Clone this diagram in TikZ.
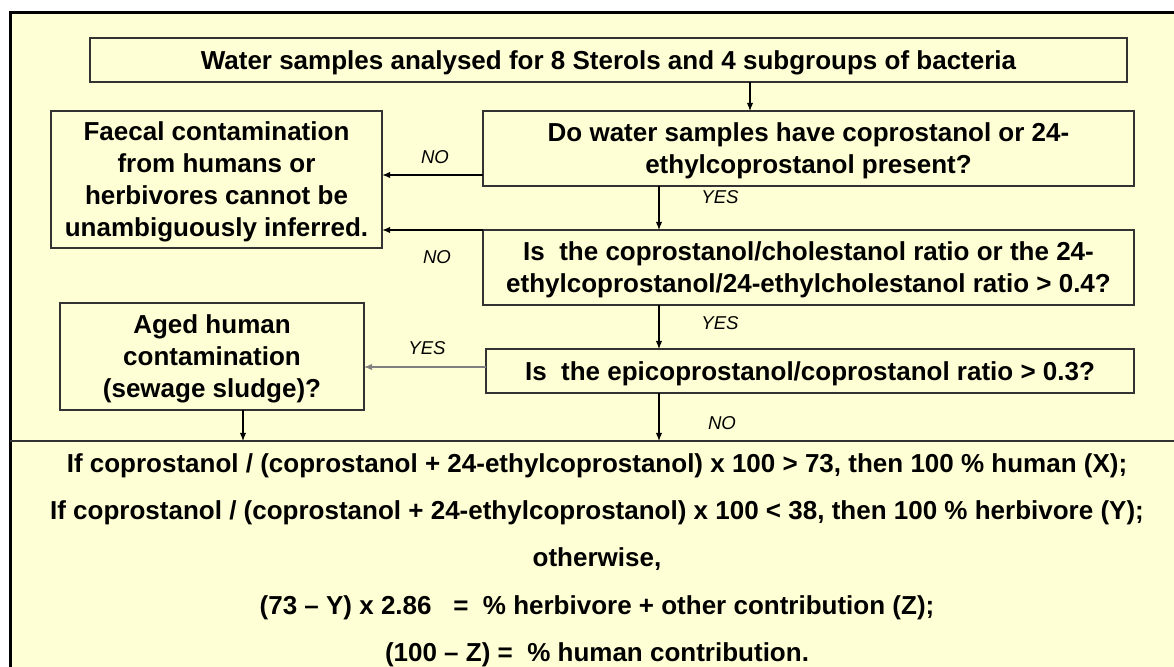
\documentclass[tikz,border=0pt]{standalone}
\usepackage{fontspec}
\setmainfont{Liberation Sans}
\usetikzlibrary{arrows.meta}
\definecolor{paper}{HTML}{FFFFD5}
\tikzstyle{stepbox}=[draw=black!80, line width=0.6pt, align=center, inner sep=0, outer sep=0,
                     font=\bfseries\fontsize{13}{16}\selectfont]
\tikzstyle{answer}=[inner sep=0, font=\itshape\fontsize{9.3}{11}\selectfont]
\tikzstyle{flow}=[line width=0.6pt, -{Latex[length=4pt,width=3.2pt]}]
\tikzstyle{sheet}=[x=0.5pt, y=-0.5pt,
                   % every node in the flow chart has the same bold face
                   every node/.style={text depth=0pt}]

\begin{document}
\begin{tikzpicture}[sheet]
        \useasboundingbox (0,0) rectangle (1174,667);
        \clip (0,0) rectangle (1174,667);
        \fill[white] (0,0) rectangle (1174,667);
        \fill[paper] (10,13) rectangle (1174,667);
        \draw[line width=1.5pt] (10.5,667) -- (10.5,13) -- (1174,13);
        \coordinate (rule) at (10,441);
        \draw[line width=0.6pt, black!80] (rule) -- (1174,441);
        \coordinate (feed)  at (750,0);
        \coordinate (spine) at (659,0);
        \node[stepbox, minimum width=518.5pt, minimum height=22pt]   (samples) at (608.5,60)  {Water samples analysed for 8 Sterols and 4 subgroups of bacteria};
        \node[stepbox, minimum width=165.5pt, minimum height=68.5pt] (faecal)  at (216.5,179.5) {Faecal contamination\\from humans or\\herbivores cannot be\\unambiguously inferred.};
        \node[stepbox, minimum width=325.5pt, minimum height=37.5pt] (dowater) at (808.5,148.5) {Do water samples have coprostanol or 24-\\ethylcoprostanol present?};
        \node[stepbox, minimum width=325.5pt, minimum height=37.5pt] (ratio)   at (808.5,267.5) {Is\ \ the coprostanol/cholestanol ratio or the 24-\\ethylcoprostanol/24-ethylcholestanol ratio > 0.4?};
        \node[stepbox, minimum width=324pt, minimum height=22pt]     (epi)     at (810,371)   {Is\ \ the epicoprostanol/coprostanol ratio > 0.3?};
        \node[stepbox, minimum width=152pt, minimum height=53.5pt]   (aged)    at (212,356.5) {Aged human\\contamination\\(sewage sludge)?};
        \node[font=\bfseries\fontsize{13}{23.6}\selectfont, align=center, inner sep=0] (result) at (597,557.5)
             {If coprostanol / (coprostanol + 24-ethylcoprostanol) x 100 > 73, then 100 \% human (X);\\
              If coprostanol / (coprostanol + 24-ethylcoprostanol) x 100 < 38, then 100 \% herbivore (Y);\\
              otherwise,\\
              (73 – Y) x 2.86\ \ \ =\ \ \% herbivore + other contribution (Z);\\
              (100 – Z) =\ \ \% human contribution.};
        \node[answer] (no1)  at (435,157) {NO};
        \node[answer] (no2)  at (437,257) {NO};
        \node[answer] (yes0) at (427,348) {YES};
        \node[answer] (yes1) at (720,197) {YES};
        \node[answer] (yes2) at (720,323) {YES};
        \node[answer] (no3)  at (722,423) {NO};
        \coordinate (noout) at ([yshift=5.5pt]dowater.south west);
        \coordinate (agedfoot) at ([xshift=15.5pt]aged.south);
        \draw[flow] (samples.south -| feed) -- (dowater.north -| feed);
        \draw[flow] (dowater.south -| spine) -- (ratio.north -| spine);
        \draw[flow] (ratio.south -| spine) -- (epi.north -| spine);
        \draw[flow] (epi.south -| spine) -- (rule -| spine);
        \draw[flow] (agedfoot) -- (agedfoot |- rule);
        \draw[flow, line width=0.8pt] (noout) -- (noout -| faecal.east);
        \draw[flow, line width=0.8pt] (ratio.north west) -- (ratio.north west -| faecal.east);
        \draw[flow, black!50] ([yshift=2pt]epi.west) -- ([yshift=2pt]epi.west -| aged.east);
\end{tikzpicture}
\end{document}
